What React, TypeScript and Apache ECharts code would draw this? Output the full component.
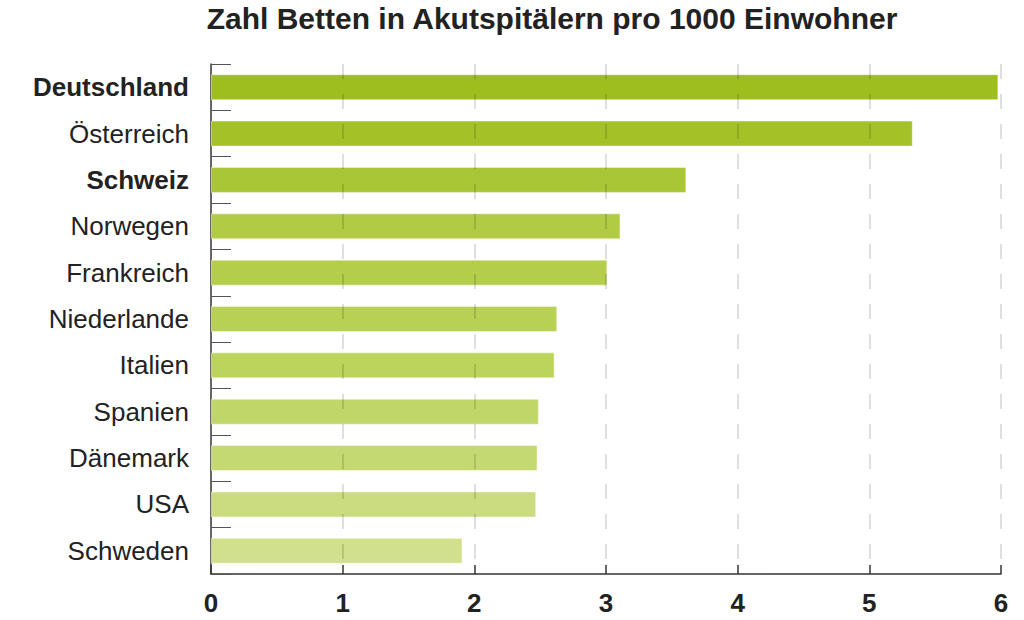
import React, { useEffect, useRef } from "react";
import * as echarts from "echarts";

const titleText = "Zahl Betten in Akutspitälern pro 1000 Einwohner";
const countries = ["Deutschland", "Österreich", "Schweiz", "Norwegen", "Frankreich", "Niederlande", "Italien", "Spanien", "Dänemark", "USA", "Schweden"];
const values = [5.98, 5.33, 3.61, 3.11, 3.01, 2.63, 2.61, 2.49, 2.48, 2.47, 1.91];
const boldCountries = ["Deutschland", "Schweiz"];
const barColors = ["#9dbe1c", "#a4c228", "#a9c634", "#b1cb44", "#b4cd4b", "#b8d054", "#bcd35c", "#c1d669", "#c5d973", "#cadc7f", "#d0e08c"];
const xTicks = [1, 2, 3, 4, 5, 6];

export default function App() {
  const ref = useRef<HTMLDivElement>(null);
  useEffect(() => {
    const chart = echarts.init(ref.current!, undefined, { renderer: "svg" });
    const font = "'Liberation Sans', Arial, sans-serif";
    chart.setOption({
      animation: false,
      backgroundColor: "#ffffff",
      graphic: [
        {
          type: "text",
          x: 552,
          y: 18,
          style: {
            text: titleText,
            fontFamily: font,
            fontWeight: "bold",
            fontSize: 30,
            fill: "#222222",
            textAlign: "center",
            textVerticalAlign: "middle",
          },
        },
      ],
      grid: { left: 211, right: 23, top: 64, bottom: 46, containLabel: false },
      xAxis: {
        type: "value",
        min: 0,
        max: 6,
        interval: 1,
        axisLine: { show: true, lineStyle: { color: "#333333", width: 1.5 } },
        axisTick: { show: true, inside: true, length: 9, lineStyle: { color: "#333333", width: 1.5 } },
        axisLabel: { fontFamily: font, fontWeight: "bold", fontSize: 26, color: "#222222", margin: 16 },
        splitLine: { show: false },
      },
      yAxis: {
        type: "category",
        inverse: true,
        data: countries,
        axisLine: { show: true, lineStyle: { color: "#333333", width: 1.5 } },
        axisTick: { show: true, inside: true, length: 20, lineStyle: { color: "#555555", width: 1 } },
        axisLabel: {
          margin: 22,
          fontFamily: font,
          fontSize: 26,
          color: "#222222",
          formatter: (v: string) => (boldCountries.includes(v) ? `{b|${v}}` : `{n|${v}}`),
          rich: {
            b: { fontFamily: font, fontSize: 26, fontWeight: "bold", color: "#222222" },
            n: { fontFamily: font, fontSize: 26, color: "#222222" },
          },
        },
      },
      series: [
        {
          type: "bar",
          barWidth: 26,
          data: values.map((v, i) => ({ value: v, itemStyle: { color: barColors[i] } })),
          itemStyle: { borderColor: "rgba(255,255,255,0.45)", borderWidth: 1 },
          markLine: {
            silent: true,
            symbol: "none",
            label: { show: false },
            lineStyle: { color: "rgba(0,0,0,0.17)", width: 1.5, type: [15, 15] },
            data: xTicks.map((t) => ({ xAxis: t })),
          },
        },
      ],
    });
    return () => chart.dispose();
  }, []);
  return <div ref={ref} style={{ width: 1024, height: 620, position: "absolute", left: 0, top: 0 }} />;
}
